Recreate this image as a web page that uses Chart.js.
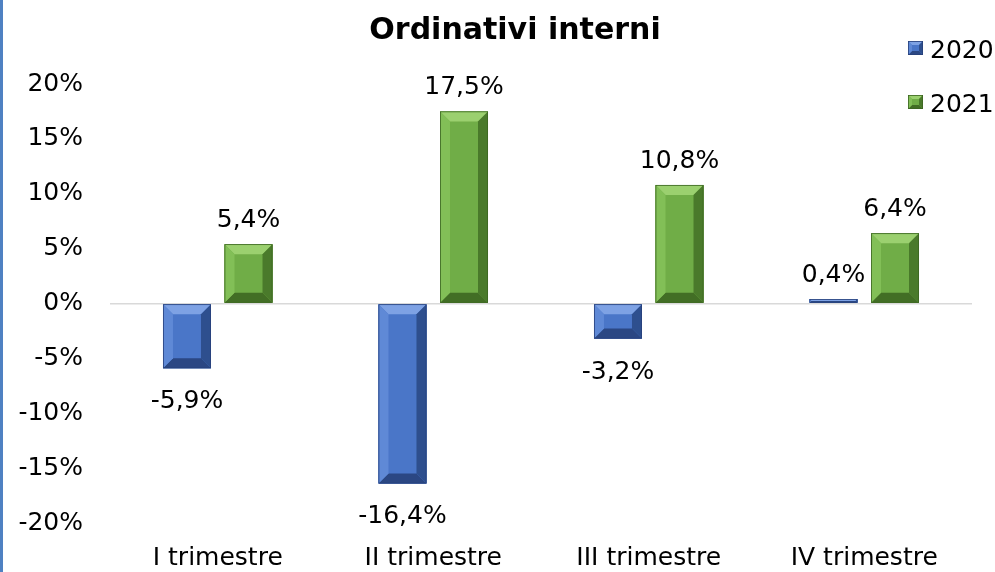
<!DOCTYPE html>
<html>
<head>
<meta charset="utf-8">
<script src="https://cdn.jsdelivr.net/npm/chart.js@4.4.1/dist/chart.umd.min.js"></script>
<style>
  html, body { margin: 0; padding: 0; background: #ffffff; }
  #wrap { width: 995px; height: 572px; position: relative; }
</style>
</head>
<body>
<div id="wrap"><canvas id="c" width="995" height="572"></canvas></div>
<script>
const titleText = "Ordinativi interni";
const categories = ["I trimestre", "II trimestre", "III trimestre", "IV trimestre"];
const seriesNames = ["2020", "2021"];
const values2020 = [-5.9, -16.4, -3.2, 0.4];
const values2021 = [5.4, 17.5, 10.8, 6.4];
const yMin = -20, yMax = 20, yStep = 5;

const FONT = "'DejaVu Sans', Verdana, sans-serif";
const palettes = [
  { face: "#4a76c8", top: "#7ea2e4", left: "#5f89d6", right: "#2e4f8e", bottom: "#2b4783", edge: "#27407a" },
  { face: "#70ad47", top: "#9bd06f", left: "#82bf57", right: "#4a7a2b", bottom: "#426e25", edge: "#3c6522" }
];

function fmt(v) { return v.toFixed(1).replace('.', ',') + '%'; }

function poly(ctx, pts, color) {
  ctx.beginPath();
  ctx.moveTo(pts[0][0], pts[0][1]);
  for (let i = 1; i < pts.length; i++) ctx.lineTo(pts[i][0], pts[i][1]);
  ctx.closePath();
  ctx.fillStyle = color;
  ctx.fill();
}

function bevelRect(ctx, x0, y0, x1, y1, pal, bMax) {
  const w = x1 - x0, h = y1 - y0;
  const b = Math.min(bMax, w / 2, h / 2);
  ctx.fillStyle = pal.face;
  ctx.fillRect(x0, y0, w, h);
  poly(ctx, [[x0, y0], [x1, y0], [x1 - b, y0 + b], [x0 + b, y0 + b]], pal.top);
  poly(ctx, [[x0, y1], [x1, y1], [x1 - b, y1 - b], [x0 + b, y1 - b]], pal.bottom);
  poly(ctx, [[x0, y0], [x0 + b, y0 + b], [x0 + b, y1 - b], [x0, y1]], pal.left);
  poly(ctx, [[x1, y0], [x1 - b, y0 + b], [x1 - b, y1 - b], [x1, y1]], pal.right);
  ctx.strokeStyle = pal.edge;
  ctx.lineWidth = 0.8;
  ctx.strokeRect(x0 + 0.4, y0 + 0.4, w - 0.8, h - 0.8);
}

const decorPlugin = {
  id: 'decor',
  beforeDraw(chart) {
    const ctx = chart.ctx;
    ctx.save();
    ctx.fillStyle = "#ffffff";
    ctx.fillRect(0, 0, chart.width, chart.height);
    ctx.fillStyle = "#4f81c2";
    ctx.fillRect(0, 0, 3, chart.height);
    ctx.restore();
  },
  afterDatasetsDraw(chart) {
    const ctx = chart.ctx;
    ctx.save();
    chart.data.datasets.forEach((ds, di) => {
      const meta = chart.getDatasetMeta(di);
      meta.data.forEach((bar, j) => {
        const p = bar.getProps(['x', 'y', 'base', 'width'], true);
        const x0 = p.x - p.width / 2, x1 = p.x + p.width / 2;
        const y0 = Math.min(p.y, p.base), y1 = Math.max(p.y, p.base);
        bevelRect(ctx, x0, y0, x1, y1, palettes[di], 10);
        const v = ds.data[j];
        ctx.fillStyle = "#000000";
        ctx.font = "25px " + FONT;
        ctx.textAlign = "center";
        ctx.textBaseline = "alphabetic";
        if (v >= 0) ctx.fillText(fmt(v), p.x, p.y - 17);
        else ctx.fillText(fmt(v), p.x, p.y + 40);
      });
    });
    ctx.restore();
  },
  afterDraw(chart) {
    const ctx = chart.ctx;
    ctx.save();
    ctx.fillStyle = "#000000";
    ctx.font = "bold 30px " + FONT;
    ctx.textAlign = "center";
    ctx.textBaseline = "alphabetic";
    ctx.fillText(titleText, 515, 39);
    ctx.font = "25px " + FONT;
    ctx.textAlign = "left";
    chart.data.datasets.forEach((ds, di) => {
      const cy = 48 + di * 54;
      bevelRect(ctx, 908, cy - 7, 923, cy + 7, palettes[di], 4);
      ctx.fillStyle = "#000000";
      ctx.fillText(ds.label, 930, cy + 10);
    });
    ctx.restore();
  }
};

new Chart(document.getElementById('c'), {
  type: 'bar',
  data: {
    labels: categories,
    datasets: [
      { label: seriesNames[0], data: values2020, backgroundColor: palettes[0].face, borderWidth: 0 },
      { label: seriesNames[1], data: values2021, backgroundColor: palettes[1].face, borderWidth: 0 }
    ]
  },
  options: {
    responsive: false,
    animation: false,
    devicePixelRatio: 1,
    categoryPercentage: 0.571,
    barPercentage: 0.78,
    layout: { padding: { top: 84, right: 23, bottom: 0, left: 0 } },
    plugins: {
      legend: { display: false },
      title: { display: false },
      tooltip: { enabled: false }
    },
    scales: {
      x: {
        afterFit(scale) { scale.height = 49; },
        grid: { display: false, drawTicks: false },
        border: { display: false },
        ticks: { color: "#000000", font: { family: FONT, size: 25 }, padding: 20, maxRotation: 0 }
      },
      y: {
        min: yMin, max: yMax,
        afterFit(scale) { scale.width = 110; },
        grid: {
          drawTicks: false,
          lineWidth: 1.5,
          color: (c) => (c.tick && c.tick.value === 0) ? "#d9d9d9" : "rgba(0,0,0,0)"
        },
        border: { display: false },
        ticks: {
          stepSize: yStep,
          color: "#000000",
          font: { family: FONT, size: 25 },
          padding: 27,
          callback: (v) => v + '%'
        }
      }
    }
  },
  plugins: [decorPlugin]
});
</script>
</body>
</html>
